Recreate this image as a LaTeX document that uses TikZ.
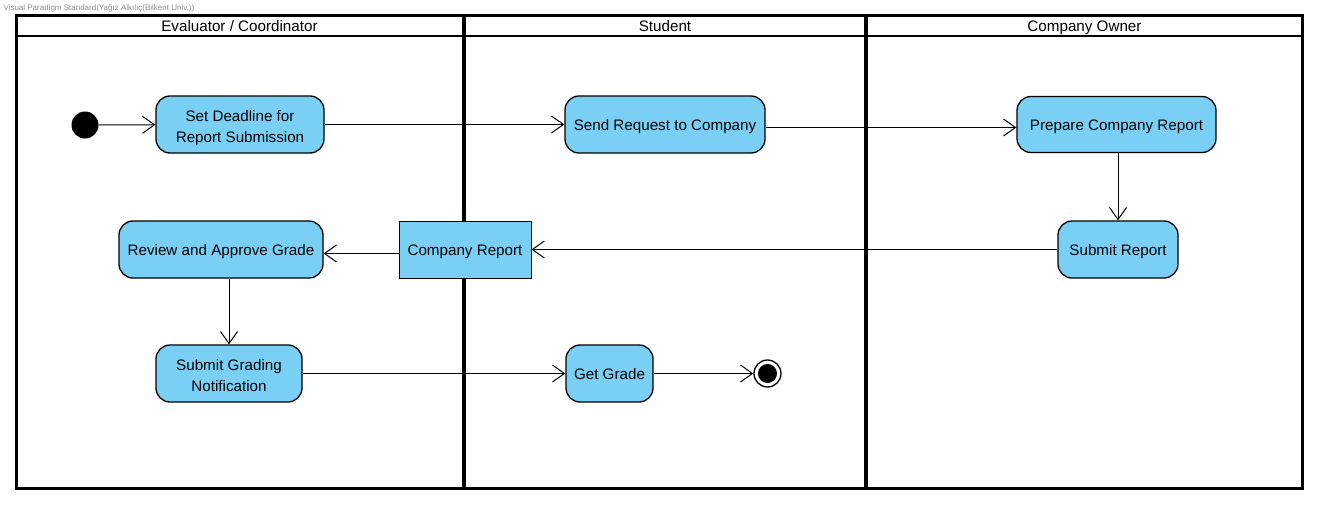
\documentclass[tikz,border=0pt]{standalone}
\usepackage{fontspec}
\setmainfont{Liberation Sans}
\usetikzlibrary{arrows.meta}

\definecolor{actfill}{RGB}{122,207,245}

\begin{document}
\begin{tikzpicture}[x=1pt,y=-1pt,
  every node/.style={font=\fontsize{15.2}{20.7}\selectfont,text height=11pt,text depth=0pt},
  action/.style={draw,line width=1.3pt,fill=actfill,rounded corners=14pt,
    inner sep=0pt,align=center},
  twoline/.style={text height=36pt},
  object/.style={draw,line width=1pt,fill=actfill,inner sep=0pt},
  flow/.style={draw,line width=1pt,-{Straight Barb[length=12pt,width=17pt,line width=1pt]}},
  lane/.style={line width=2.7pt}]
\useasboundingbox (0,0) rectangle (1320,506);

% watermark
\node[anchor=west,text=black!45,font=\fontsize{8}{9}\selectfont,text height=6pt] (mark) at (0,7)
  {Visual Paradigm Standard(Yağız Alkılıç(Bilkent Univ.))};

% swimlanes
\draw[lane] (16.3,15.3) rectangle (1302.2,488.5);
\draw[lane] (16.3,36) -- (1302.2,36);
\draw[line width=4pt] (464,15.3) -- (464,488.5);
\draw[line width=4pt] (866,15.3) -- (866,488.5);
\node (laneA) at (239.5,26) {Evaluator / Coordinator};
\node (laneB) at (665,26) {Student};
\node (laneC) at (1084.5,26) {Company Owner};

% initial and final nodes
\node[circle,fill=black,minimum size=27pt,inner sep=0pt] (start) at (85,125) {};
\node[circle,draw,line width=1.3pt,fill=white,minimum size=27pt,inner sep=0pt] (stop) at (767.5,373.5) {};
\node[circle,fill=black,minimum size=19pt,inner sep=0pt] (stopdot) at (767.5,373.5) {};

% actions
\node[action,twoline,minimum width=168pt,minimum height=57pt] (deadline) at (240,124.5)
  {Set Deadline for\\Report Submission};
\node[action,minimum width=200pt,minimum height=57pt] (request) at (665,124.5)
  {Send Request to Company};
\node[action,minimum width=199pt,minimum height=56pt] (prepare) at (1116.5,124.5)
  {Prepare Company Report};
\node[action,minimum width=120pt,minimum height=57pt] (submitrep) at (1118,249.5)
  {Submit Report};
\node[object,minimum width=132pt,minimum height=57pt] (report) at (465,249.5)
  {Company Report};
\node[action,minimum width=204pt,minimum height=57pt] (review) at (221,249.5)
  {Review and Approve Grade};
\node[action,twoline,minimum width=146pt,minimum height=57pt] (grading) at (229,373.5)
  {Submit Grading\\Notification};
\node[action,minimum width=87pt,minimum height=57pt] (grade) at (609.5,373.5)
  {Get Grade};

% flows
\draw[flow] (start) -- (deadline);
\draw[flow] (deadline) -- (request);
\draw[flow] ([yshift=-3pt]request.east) -- ([yshift=-3pt]prepare.west);
\draw[flow] (prepare.south -| submitrep.north) -- (submitrep.north);
\draw[flow] (submitrep) -- (report);
\draw[flow] ([yshift=-4pt]report.west) -- ([yshift=-4pt]review.east);
\draw[flow] (review.south -| grading.north) -- (grading.north);
\draw[flow] (grading) -- (grade);
\draw[flow] (grade) -- (stop);
\end{tikzpicture}
\end{document}
